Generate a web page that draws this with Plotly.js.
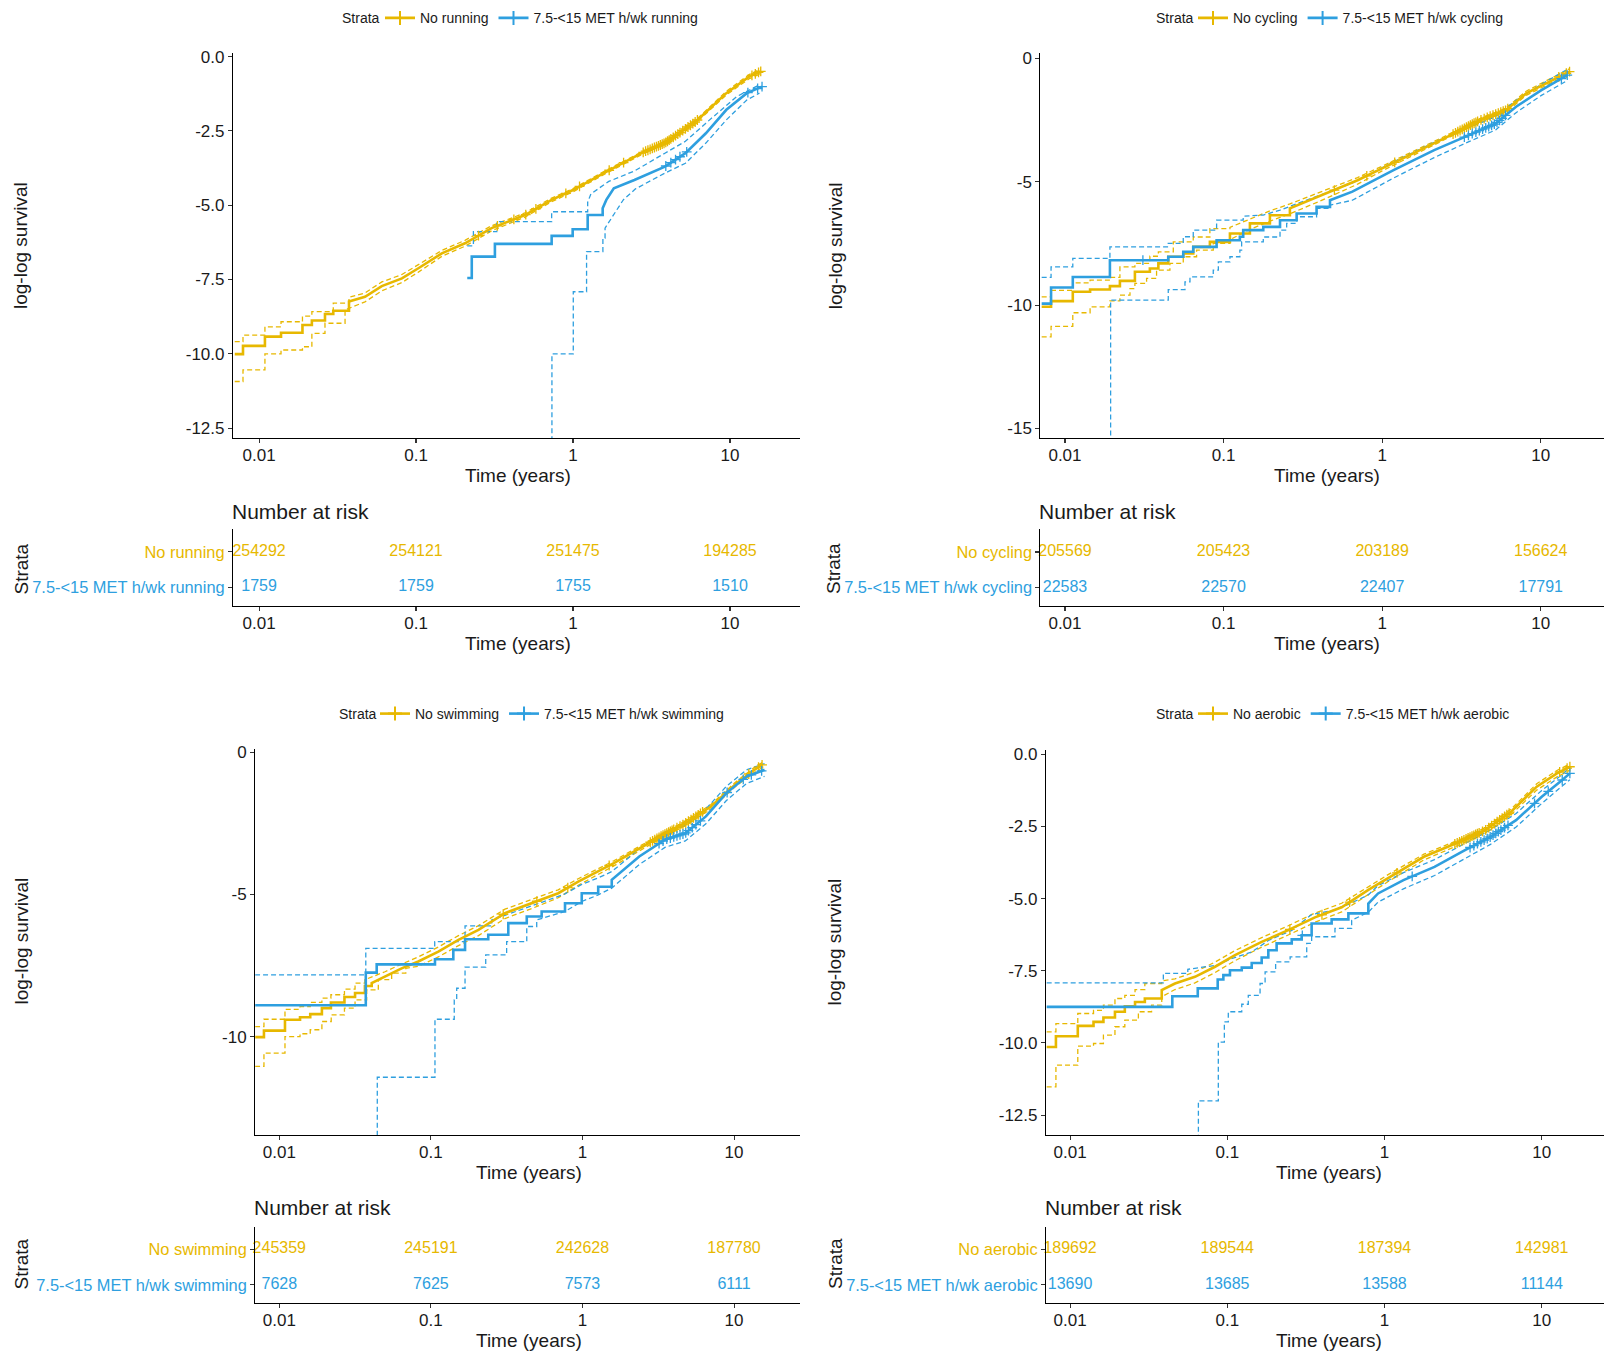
<!DOCTYPE html>
<html>
<head>
<meta charset="utf-8">
<script src="https://cdn.plot.ly/plotly-3.0.1.min.js"></script>
<style>html,body{margin:0;padding:0;background:#fff;}#chart{width:1604px;height:1354px;}</style>
</head>
<body>
<div id="chart"></div>
<script>
// ---------------- DATA ----------------
// [time in years, log-log survival]; -30 stands for -Inf (CI bound not estimable yet)
const groupsRun = ['No running', '7.5-&lt;15 MET h/wk running'];
const groupsCyc = ['No cycling', '7.5-&lt;15 MET h/wk cycling'];
const groupsSwm = ['No swimming', '7.5-&lt;15 MET h/wk swimming'];
const groupsAer = ['No aerobic', '7.5-&lt;15 MET h/wk aerobic'];

const riskTimes = [0.01, 0.1, 1, 10];
const runRiskNo = [254292, 254121, 251475, 194285];
const runRiskHi = [1759, 1759, 1755, 1510];
const cycRiskNo = [205569, 205423, 203189, 156624];
const cycRiskHi = [22583, 22570, 22407, 17791];
const swmRiskNo = [245359, 245191, 242628, 187780];
const swmRiskHi = [7628, 7625, 7573, 6111];
const aerRiskNo = [189692, 189544, 187394, 142981];
const aerRiskHi = [13690, 13685, 13588, 11144];

// ---- running ----
const runNoMain = [[0.0070,-10.01],[0.0079,-9.73],[0.0109,-9.42],[0.0138,-9.29],[0.0189,-9.03],[0.0217,-8.88],[0.0263,-8.66],[0.0297,-8.55],[0.0374,-8.24],[0.0473,-8.08],[0.0605,-7.72],[0.0813,-7.46],[0.1035,-7.12],[0.146,-6.62],[0.205,-6.28],[0.303,-5.77],[0.494,-5.33],[0.731,-4.82],[1.0,-4.49],[1.57,-3.92],[2.85,-3.20],[3.85,-2.91],[6.04,-2.19],[9.48,-1.23],[13.3,-0.67],[15.7,-0.50]];
const runNoUp = [[0.0070,-9.59],[0.0079,-9.37],[0.0109,-9.09],[0.0138,-8.92],[0.0189,-8.73],[0.0217,-8.58],[0.0297,-8.29],[0.0374,-8.10],[0.0473,-7.95],[0.0605,-7.58],[0.0813,-7.33],[0.1035,-7.0],[0.146,-6.52],[0.205,-6.18],[0.303,-5.69],[0.494,-5.26],[0.731,-4.76],[1.0,-4.44],[1.57,-3.87],[2.85,-3.16],[3.85,-2.87],[6.04,-2.14],[9.48,-1.17],[13.3,-0.60],[15.7,-0.42]];
const runNoLo = [[0.0070,-10.93],[0.0079,-10.54],[0.0109,-10.0],[0.0138,-9.87],[0.0189,-9.76],[0.0217,-9.31],[0.0263,-8.97],[0.0353,-8.52],[0.0473,-8.25],[0.0605,-7.88],[0.0813,-7.6],[0.1035,-7.25],[0.146,-6.72],[0.205,-6.38],[0.303,-5.86],[0.494,-5.4],[0.731,-4.88],[1.0,-4.55],[1.57,-3.97],[2.85,-3.25],[3.85,-2.96],[6.04,-2.24],[9.48,-1.29],[13.3,-0.74],[15.7,-0.58]];
const runHiMain = [[0.212,-7.45],[0.2265,-6.73],[0.318,-6.30],[0.731,-6.03],[0.995,-5.81],[1.24,-5.33],[1.545,-5.1],[1.63,-4.82],[1.82,-4.43],[2.46,-4.15],[3.85,-3.70],[5.2,-3.25],[7.02,-2.58],[9.48,-1.79],[12.8,-1.23],[16.0,-1.01]];
const runHiUp = [[0.212,-6.37],[0.232,-5.89],[0.327,-5.55],[0.731,-5.22],[1.24,-4.9],[1.30,-4.62],[1.69,-4.2],[2.46,-3.85],[3.85,-3.25],[5.2,-2.85],[7.02,-2.24],[11.0,-1.35],[15.4,-0.95]];
const runHiLo = [[0.212,-30],[0.734,-10.0],[1.004,-7.91],[1.22,-6.56],[1.55,-6.11],[1.6,-5.77],[2.09,-4.82],[2.5,-4.45],[3.85,-3.92],[5.2,-3.59],[7.02,-2.91],[9.48,-2.13],[12.8,-1.46],[15.4,-1.23]];
const runNoCens = [0.25,0.33,0.42,0.5,0.58,0.9,1.1,1.7,2.1,2.8,2.9,3.0,3.1,3.2,3.3,3.4,3.5,3.6,3.7,3.8,3.9,4.0,4.1,4.2,4.35,4.5,4.65,4.8,5.0,5.2,5.4,5.6,5.8,6.0,6.2,13.8,14.5,15.2,15.7];
const runHiCens = [3.9,4.2,4.5,4.8,5.3,13.0,15.0,16.0];

// ---- cycling ----
const cycNoMain = [[0.00713,-10.07],[0.00817,-9.84],[0.0112,-9.46],[0.0144,-9.37],[0.0192,-9.23],[0.0222,-9.02],[0.0276,-8.65],[0.0343,-8.52],[0.0388,-8.31],[0.0448,-8.04],[0.0557,-7.91],[0.0644,-7.64],[0.082,-7.44],[0.1097,-7.10],[0.1466,-6.69],[0.196,-6.36],[0.262,-6.08],[0.40,-5.6],[0.70,-4.94],[1.0,-4.46],[1.58,-3.85],[2.86,-3.04],[4.16,-2.50],[6.03,-2.10],[8.1,-1.42],[11.8,-0.88],[15.2,-0.54]];
const cycNoUp = [[0.00713,-9.67],[0.00817,-9.4],[0.0112,-9.1],[0.0144,-8.99],[0.0192,-8.88],[0.0222,-8.45],[0.0276,-8.31],[0.0343,-8.02],[0.0388,-7.84],[0.0482,-7.44],[0.0644,-7.24],[0.082,-6.9],[0.1097,-6.85],[0.1466,-6.5],[0.196,-6.18],[0.262,-5.9],[0.40,-5.45],[0.70,-4.83],[1.0,-4.37],[1.58,-3.77],[2.86,-2.97],[4.16,-2.43],[6.03,-2.02],[8.1,-1.33],[11.8,-0.78],[15.2,-0.42]];
const cycNoLo = [[0.00713,-11.29],[0.00817,-10.86],[0.0112,-10.31],[0.0144,-10.07],[0.0192,-9.83],[0.0222,-9.6],[0.0257,-9.33],[0.0276,-9.12],[0.0327,-8.92],[0.0378,-8.58],[0.0459,-8.31],[0.0557,-8.04],[0.0676,-7.77],[0.0861,-7.5],[0.1097,-7.35],[0.1466,-6.93],[0.196,-6.6],[0.262,-6.3],[0.40,-5.8],[0.70,-5.1],[1.0,-4.56],[1.58,-3.93],[2.86,-3.1],[4.16,-2.57],[6.03,-2.18],[8.1,-1.5],[11.8,-0.97],[15.2,-0.66]];
const cycHiMain = [[0.00713,-9.94],[0.00817,-9.29],[0.0112,-8.86],[0.0192,-8.18],[0.0448,-8.04],[0.0557,-7.84],[0.0644,-7.64],[0.0904,-7.37],[0.1267,-7.23],[0.133,-6.96],[0.178,-6.83],[0.227,-6.56],[0.289,-6.29],[0.386,-6.02],[0.469,-5.75],[0.649,-5.4],[1.18,-4.53],[2.13,-3.72],[3.33,-3.18],[5.2,-2.64],[6.99,-1.96],[10.1,-1.29],[14.7,-0.68]];
const cycHiUp = [[0.00713,-8.88],[0.00817,-8.45],[0.0112,-8.11],[0.0192,-7.64],[0.0448,-7.5],[0.0557,-7.23],[0.0644,-6.96],[0.0904,-6.56],[0.133,-6.4],[0.178,-6.35],[0.227,-6.15],[0.289,-5.9],[0.469,-5.4],[0.649,-5.05],[1.18,-4.2],[2.13,-3.4],[3.33,-2.88],[5.2,-2.36],[6.99,-1.7],[10.1,-1.05],[14.7,-0.45]];
const cycHiLo = [[0.00713,-30],[0.0194,-9.80],[0.0448,-9.37],[0.0571,-9.06],[0.0614,-8.86],[0.0861,-8.58],[0.0927,-8.25],[0.1097,-8.04],[0.1267,-7.77],[0.13,-7.44],[0.178,-7.24],[0.227,-6.96],[0.25,-6.69],[0.289,-6.42],[0.386,-6.08],[0.469,-5.95],[0.649,-5.75],[1.18,-4.85],[2.13,-4.02],[3.33,-3.45],[5.2,-2.9],[6.99,-2.2],[10.1,-1.5],[14.7,-0.9]];
const cycNoCens = [0.5,0.8,1.2,2.8,2.9,3.0,3.1,3.2,3.3,3.4,3.5,3.6,3.7,3.8,3.9,4.0,4.2,4.4,4.6,4.8,5.0,5.2,5.4,5.6,5.8,6.0,6.2,13.0,14.5,15.2];
const cycHiCens = [0.031,3.3,3.5,3.7,3.9,4.1,4.3,4.5,4.7,4.9,5.1,5.3,5.5,5.7,6.0,13.5,14.7];

// ---- swimming ----
const swmNoMain = [[0.00692,-10.02],[0.00792,-9.79],[0.0109,-9.41],[0.0137,-9.32],[0.016,-9.21],[0.0191,-9.0],[0.0219,-8.8],[0.0269,-8.61],[0.0316,-8.47],[0.0367,-8.22],[0.0407,-8.12],[0.0498,-7.89],[0.0641,-7.6],[0.0826,-7.36],[0.112,-7.01],[0.152,-6.6],[0.206,-6.25],[0.308,-5.66],[0.462,-5.31],[0.692,-4.96],[0.938,-4.55],[1.61,-3.90],[2.99,-3.08],[4.77,-2.50],[7.04,-1.91],[10.4,-1.09],[13.6,-0.62],[15.3,-0.45]];
const swmNoUp = [[0.00692,-9.65],[0.00792,-9.39],[0.0109,-9.04],[0.0137,-8.95],[0.016,-8.8],[0.0191,-8.65],[0.0219,-8.53],[0.0269,-8.33],[0.0316,-8.12],[0.0367,-8.0],[0.0498,-7.72],[0.0641,-7.45],[0.0826,-7.2],[0.112,-6.85],[0.152,-6.45],[0.206,-6.1],[0.308,-5.52],[0.462,-5.18],[0.692,-4.84],[0.938,-4.45],[1.61,-3.82],[2.99,-3.01],[4.77,-2.43],[7.04,-1.84],[10.4,-1.02],[13.6,-0.54],[15.3,-0.37]];
const swmNoLo = [[0.00692,-11.05],[0.00792,-10.58],[0.0109,-10.0],[0.0137,-9.9],[0.016,-9.76],[0.0191,-9.47],[0.022,-9.24],[0.0269,-9.0],[0.0316,-8.71],[0.0377,-8.36],[0.045,-8.0],[0.0551,-7.77],[0.0683,-7.6],[0.0826,-7.53],[0.112,-7.2],[0.152,-6.8],[0.206,-6.45],[0.308,-5.85],[0.462,-5.5],[0.692,-5.12],[0.938,-4.68],[1.61,-4.0],[2.99,-3.16],[4.77,-2.58],[7.04,-1.99],[10.4,-1.17],[13.6,-0.71],[15.3,-0.55]];
const swmHiMain = [[0.00692,-8.9],[0.0372,-7.75],[0.0439,-7.46],[0.1064,-7.28],[0.1406,-6.95],[0.168,-6.58],[0.239,-6.42],[0.324,-6.01],[0.429,-5.78],[0.538,-5.6],[0.767,-5.31],[0.989,-4.96],[1.27,-4.73],[1.56,-4.49],[2.37,-3.67],[3.5,-3.08],[4.77,-2.85],[6.52,-2.26],[8.9,-1.44],[12.1,-0.86],[15.9,-0.62]];
const swmHiUp = [[0.00692,-7.83],[0.0372,-6.9],[0.106,-6.66],[0.168,-6.11],[0.252,-5.9],[0.324,-5.7],[0.429,-5.45],[0.538,-5.28],[0.767,-4.98],[0.989,-4.65],[1.27,-4.42],[1.56,-4.2],[2.37,-3.4],[3.5,-2.82],[4.77,-2.58],[6.52,-2.0],[8.9,-1.2],[12.1,-0.62],[15.9,-0.4]];
const swmHiLo = [[0.00692,-30],[0.0443,-11.43],[0.1064,-9.39],[0.1426,-8.71],[0.148,-8.3],[0.168,-7.56],[0.23,-7.13],[0.316,-6.66],[0.429,-6.13],[0.499,-5.9],[0.767,-5.6],[0.989,-5.25],[1.27,-5.02],[1.56,-4.78],[2.37,-3.95],[3.5,-3.35],[4.77,-3.12],[6.52,-2.52],[8.9,-1.7],[12.1,-1.1],[15.9,-0.85]];
const swmNoCens = [0.3,0.5,0.8,1.5,2.8,2.9,3.0,3.1,3.2,3.3,3.4,3.5,3.6,3.7,3.8,3.9,4.0,4.2,4.4,4.6,4.8,5.0,5.2,5.4,5.6,5.8,6.0,6.2,12.5,14.5,15.3];
const swmHiCens = [3.2,3.4,3.6,3.8,4.0,4.2,4.4,4.6,4.8,5.0,5.3,5.6,6.0,9.0,11.5,13.0,15.2];

// ---- aerobic ----
const aerNoMain = [[0.0071,-10.14],[0.00813,-9.77],[0.0112,-9.41],[0.0141,-9.27],[0.0163,-9.12],[0.0193,-8.92],[0.0223,-8.73],[0.0259,-8.58],[0.0299,-8.46],[0.0383,-8.17],[0.0465,-7.94],[0.0623,-7.71],[0.0836,-7.36],[0.112,-6.96],[0.1655,-6.5],[0.244,-6.09],[0.361,-5.65],[0.534,-5.3],[0.789,-4.7],[1.06,-4.28],[1.78,-3.55],[3.01,-3.03],[4.39,-2.62],[6.38,-1.99],[9.29,-1.12],[12.5,-0.66],[15.1,-0.43]];
const aerNoUp = [[0.0071,-9.62],[0.00813,-9.33],[0.0112,-8.98],[0.0141,-8.87],[0.0163,-8.69],[0.0193,-8.46],[0.0223,-8.35],[0.0259,-8.15],[0.0299,-7.94],[0.0383,-7.85],[0.0465,-7.78],[0.0623,-7.54],[0.0836,-7.2],[0.112,-6.8],[0.1655,-6.35],[0.244,-5.94],[0.361,-5.5],[0.534,-5.16],[0.789,-4.58],[1.06,-4.16],[1.78,-3.46],[3.01,-2.95],[4.39,-2.54],[6.38,-1.9],[9.29,-1.02],[12.5,-0.56],[15.1,-0.33]];
const aerNoLo = [[0.0071,-11.52],[0.00813,-10.77],[0.0112,-10.11],[0.0141,-10.02],[0.0163,-9.73],[0.0193,-9.44],[0.0223,-9.21],[0.0272,-8.92],[0.033,-8.69],[0.0383,-8.4],[0.0465,-8.15],[0.0623,-7.92],[0.0836,-7.56],[0.112,-7.15],[0.1655,-6.68],[0.244,-6.26],[0.361,-5.82],[0.534,-5.46],[0.789,-4.84],[1.06,-4.4],[1.78,-3.66],[3.01,-3.13],[4.39,-2.72],[6.38,-2.09],[9.29,-1.24],[12.5,-0.78],[15.1,-0.55]];
const aerHiMain = [[0.0071,-8.75],[0.0447,-8.38],[0.0649,-8.11],[0.0869,-7.8],[0.0944,-7.65],[0.104,-7.48],[0.1236,-7.39],[0.143,-7.23],[0.1655,-7.04],[0.1824,-6.79],[0.206,-6.55],[0.257,-6.41],[0.297,-6.27],[0.344,-5.86],[0.461,-5.72],[0.589,-5.51],[0.789,-5.17],[0.91,-4.82],[1.32,-4.36],[2.08,-3.90],[3.25,-3.32],[4.72,-2.86],[6.87,-2.28],[10.0,-1.47],[13.5,-0.89],[15.1,-0.66]];
const aerHiUp = [[0.0071,-7.92],[0.0392,-7.59],[0.0561,-7.45],[0.0869,-7.3],[0.104,-7.1],[0.143,-6.85],[0.1824,-6.45],[0.257,-6.1],[0.344,-5.55],[0.461,-5.42],[0.589,-5.2],[0.789,-4.87],[0.91,-4.55],[1.32,-4.1],[2.08,-3.65],[3.25,-3.08],[4.72,-2.62],[6.87,-2.05],[10.0,-1.25],[13.5,-0.7],[15.1,-0.45]];
const aerHiLo = [[0.0071,-30],[0.0655,-12.01],[0.0877,-9.97],[0.0958,-9.27],[0.1015,-8.92],[0.1236,-8.66],[0.136,-8.35],[0.1616,-7.94],[0.174,-7.54],[0.203,-7.19],[0.251,-7.02],[0.32,-6.55],[0.344,-6.32],[0.484,-6.03],[0.618,-5.75],[0.789,-5.47],[0.91,-5.12],[1.32,-4.66],[2.08,-4.2],[3.25,-3.6],[4.72,-3.12],[6.87,-2.52],[10.0,-1.7],[13.5,-1.1],[15.1,-0.88]];
const aerNoCens = [0.25,0.4,0.6,1.2,2.8,2.9,3.0,3.1,3.2,3.3,3.4,3.5,3.6,3.7,3.8,3.9,4.0,4.2,4.4,4.6,4.8,5.0,5.2,5.4,5.6,5.8,6.0,6.2,13.0,14.5,15.1];
const aerHiCens = [0.3,1.5,3.5,3.7,3.9,4.1,4.3,4.5,4.7,4.9,5.1,5.3,5.5,5.8,6.1,9.0,11.0,13.5,15.1];

// -------------- PRESENTATION --------------
const W = 1604, H = 1354;
const YEL = '#E7B800', BLU = '#2E9FDF';
const FONT = '"Liberation Sans", Arial, Helvetica, sans-serif';
const AXC = '#1a1a1a';

const panels = [
  {groups: groupsRun, riskNo: runRiskNo, riskHi: runRiskHi,
   no: {main: runNoMain, up: runNoUp, lo: runNoLo, se: [0.04, 0.04, 0.04], cens: runNoCens},
   hi: {main: runHiMain, up: runHiUp, lo: runHiLo, se: [1.55, 1.25, 1.6], cens: runHiCens},
   mx: [233, 800], my: [53, 438], ty: [529, 606], xr: [-2.166, 1.446], yr: [-12.83, 0.12],
   yt: [0, -2.5, -5, -7.5, -10, -12.5], ytt: ['0.0', '-2.5', '-5.0', '-7.5', '-10.0', '-12.5'],
   legS: [382, 18.3], legX: 380, ylab: [20.5, 245.5], xlab: [518, 475], ttl: [230, 511.7], strata: [20.5, 569], txlab: [518, 643.3]},
  {groups: groupsCyc, riskNo: cycRiskNo, riskHi: cycRiskHi,
   no: {main: cycNoMain, up: cycNoUp, lo: cycNoLo, se: [0.27, 0.11, 0.11], cens: cycNoCens},
   hi: {main: cycHiMain, up: cycHiUp, lo: cycHiLo, se: [0.47, 0.14, 0.47], cens: cycHiCens},
   mx: [1040.4, 1604], my: [52.7, 438.3], ty: [529.3, 606], xr: [-2.155, 1.399], yr: [-15.4, 0.23],
   yt: [0, -5, -10, -15], ytt: ['0', '-5', '-10', '-15'],
   legS: [1196, 18.3], legX: 1193, ylab: [835.8, 245.5], xlab: [1327, 475], ttl: [1037.4, 511.7], strata: [833, 569], txlab: [1327, 643.3]},
  {groups: groupsSwm, riskNo: swmRiskNo, riskHi: swmRiskHi,
   no: {main: swmNoMain, up: swmNoUp, lo: swmNoLo, se: [0.041, 0.037, 0.069], cens: swmNoCens},
   hi: {main: swmHiMain, up: swmHiUp, lo: swmHiLo, se: [1.6, 0.26, 0.5], cens: swmHiCens},
   mx: [255.2, 800], my: [749.3, 1135], ty: [1226.7, 1303.3], xr: [-2.159, 1.435], yr: [-13.46, 0.1],
   yt: [0, -5, -10], ytt: ['0', '-5', '-10'],
   legS: [378.5, 714], legX: 375, ylab: [20.5, 941], xlab: [529, 1172.5], ttl: [252.2, 1207.3], strata: [20.5, 1264], txlab: [529, 1340.7]},
  {groups: groupsAer, riskNo: aerRiskNo, riskHi: aerRiskHi,
   no: {main: aerNoMain, up: aerNoUp, lo: aerNoLo, se: [0.039, 0.039, 0.039], cens: aerNoCens},
   hi: {main: aerHiMain, up: aerHiUp, lo: aerHiLo, se: [0.79, 0.06, 0.62], cens: aerHiCens},
   mx: [1046, 1604], my: [750, 1135], ty: [1226.7, 1303.3], xr: [-2.153, 1.396], yr: [-13.19, 0.15],
   yt: [0, -2.5, -5, -7.5, -10, -12.5], ytt: ['0.0', '-2.5', '-5.0', '-7.5', '-10.0', '-12.5'],
   legS: [1196, 714], legX: 1193, ylab: [834.8, 941.7], xlab: [1329.4, 1172.5], ttl: [1043, 1207.3], strata: [835, 1264], txlab: [1329.4, 1340.7]}
];

const fx = p => p / W;
const fy = p => 1 - p / H;

// step path: points with time <= stepEnd are joined as steps, later ones linearly
function stepPath(pts, se) {
  const x = [], y = [];
  pts.forEach((p, i) => {
    if (i > 0 && p[0] <= se) { x.push(p[0]); y.push(pts[i - 1][1]); }
    x.push(p[0]); y.push(p[1]);
  });
  return {x, y};
}
function valueAt(pts, se, t) {
  let i = 0;
  while (i + 1 < pts.length && pts[i + 1][0] <= t) i++;
  if (i + 1 < pts.length && pts[i + 1][0] > se && t > pts[i][0]) {
    const [t0, y0] = pts[i], [t1, y1] = pts[i + 1];
    const f = (Math.log(t) - Math.log(t0)) / (Math.log(t1) - Math.log(t0));
    return y0 + f * (y1 - y0);
  }
  return pts[i][1];
}

const traces = [];
const layout = {
  width: W, height: H, margin: {l: 0, r: 0, t: 0, b: 0},
  paper_bgcolor: '#fff', plot_bgcolor: '#fff',
  font: {family: FONT, color: AXC},
  annotations: [], showlegend: true
};

panels.forEach((P, k) => {
  const mi = 2 * k + 1, ti = 2 * k + 2;
  const mx = 'x' + (mi === 1 ? '' : mi), my = 'y' + (mi === 1 ? '' : mi);
  const tx = 'x' + ti, ty = 'y' + ti;
  const mxa = 'xaxis' + (mi === 1 ? '' : mi), mya = 'yaxis' + (mi === 1 ? '' : mi);
  const legName = k === 0 ? 'legend' : 'legend' + (k + 1);

  const xBase = {
    type: 'log', range: P.xr, domain: [fx(P.mx[0]), fx(P.mx[1])],
    showline: true, linecolor: '#000', linewidth: 1.1, mirror: false,
    ticks: 'outside', ticklen: 4, tickwidth: 1.1, tickcolor: '#333',
    tickvals: riskTimes, ticktext: ['0.01', '0.1', '1', '10'],
    showgrid: false, zeroline: false, tickfont: {size: 17, color: AXC, family: FONT}, fixedrange: true
  };
  layout[mxa] = Object.assign({}, xBase, {anchor: my, ticklabelstandoff: -3});
  layout[mya] = {
    range: P.yr, domain: [fy(P.my[1]), fy(P.my[0])], anchor: mx,
    showline: true, linecolor: '#000', linewidth: 1.1,
    ticks: 'outside', ticklen: 4, tickwidth: 1.1, tickcolor: '#333',
    tickvals: P.yt, ticktext: P.ytt, showgrid: false, zeroline: false,
    tickfont: {size: 17, color: AXC, family: FONT}
  };
  layout['xaxis' + ti] = Object.assign({}, xBase, {anchor: ty, ticklabelstandoff: -3});
  layout['yaxis' + ti] = {
    range: [0.48, 2.64], domain: [fy(P.ty[1]), fy(P.ty[0])], anchor: tx,
    showline: true, linecolor: '#000', linewidth: 1.1,
    ticks: 'outside', ticklen: 4, tickwidth: 1.1, tickcolor: '#333',
    tickvals: [2, 1],
    ticktext: ['<span style="color:' + YEL + '">' + P.groups[0] + '</span>',
               '<span style="color:' + BLU + '">' + P.groups[1] + '</span>'],
    showgrid: false, zeroline: false, tickfont: {size: 16.4, family: FONT}
  };

  // confidence bounds (dashed): se = [main, up, lo]
  [[P.no, YEL], [P.hi, BLU]].forEach(([S, col]) => {
    [['up', 1], ['lo', 2]].forEach(([key, idx]) => {
      const p = stepPath(S[key], S.se[idx]);
      traces.push({type: 'scatter', mode: 'lines', x: p.x, y: p.y, xaxis: mx, yaxis: my,
        line: {color: col, width: 1.3, dash: '5px,3px'}, showlegend: false, hoverinfo: 'skip'});
    });
  });
  // main curves + censor marks
  [[P.no, YEL], [P.hi, BLU]].forEach(([S, col]) => {
    const p = stepPath(S.main, S.se[0]);
    traces.push({type: 'scatter', mode: 'lines', x: p.x, y: p.y, xaxis: mx, yaxis: my,
      line: {color: col, width: 2.6}, showlegend: false, hoverinfo: 'skip'});
    traces.push({type: 'scatter', mode: 'markers', x: S.cens, y: S.cens.map(t => valueAt(S.main, S.se[0], t)),
      xaxis: mx, yaxis: my, showlegend: false, hoverinfo: 'skip',
      marker: {symbol: 'cross-thin', size: 7, color: col, line: {color: col, width: 1.3}}});
  });
  // legend entries
  [[P.groups[0], YEL], [P.groups[1], BLU]].forEach(([nm, col]) => {
    traces.push({type: 'scatter', mode: 'lines+markers', x: [null], y: [null], xaxis: mx, yaxis: my,
      name: nm, legend: legName, line: {color: col, width: 2.6},
      marker: {symbol: 'cross-thin', size: 10, color: col, line: {color: col, width: 2}}});
  });
  layout[legName] = {
    orientation: 'h', x: fx(P.legX), xanchor: 'left', y: fy(P.legS[1]), yanchor: 'middle',
    bgcolor: 'rgba(0,0,0,0)', font: {size: 14, family: FONT, color: AXC},
    itemwidth: 30, tracegroupgap: 0, itemclick: false
  };

  // risk table numbers
  [[P.riskNo, 2, YEL], [P.riskHi, 1, BLU]].forEach(([vals, row, col]) => {
    traces.push({type: 'scatter', mode: 'text', x: riskTimes, y: riskTimes.map(() => row),
      text: vals.map(String), xaxis: tx, yaxis: ty, cliponaxis: false,
      textposition: 'middle center', textfont: {size: 16, color: col, family: FONT},
      showlegend: false, hoverinfo: 'skip'});
  });

  // titles
  const A = layout.annotations;
  A.push({text: 'Strata', x: fx(P.legS[0]), y: fy(P.legS[1]), xref: 'paper', yref: 'paper',
    showarrow: false, xanchor: 'right', yanchor: 'middle', font: {size: 14, family: FONT, color: AXC}});
  A.push({text: 'log-log survival', textangle: -90, x: fx(P.ylab[0]), y: fy(P.ylab[1]),
    xref: 'paper', yref: 'paper', showarrow: false, xanchor: 'center', yanchor: 'middle',
    font: {size: 19, family: FONT, color: AXC}});
  A.push({text: 'Time (years)', x: fx(P.xlab[0]), y: fy(P.xlab[1]), xref: 'paper', yref: 'paper',
    showarrow: false, xanchor: 'center', yanchor: 'middle', font: {size: 19, family: FONT, color: AXC}});
  A.push({text: 'Number at risk', x: fx(P.ttl[0]), y: fy(P.ttl[1]), xref: 'paper', yref: 'paper',
    showarrow: false, xanchor: 'left', yanchor: 'middle', font: {size: 21, family: FONT, color: AXC}});
  A.push({text: 'Strata', textangle: -90, x: fx(P.strata[0]), y: fy(P.strata[1]), xref: 'paper', yref: 'paper',
    showarrow: false, xanchor: 'center', yanchor: 'middle', font: {size: 19, family: FONT, color: AXC}});
  A.push({text: 'Time (years)', x: fx(P.txlab[0]), y: fy(P.txlab[1]), xref: 'paper', yref: 'paper',
    showarrow: false, xanchor: 'center', yanchor: 'middle', font: {size: 19, family: FONT, color: AXC}});
});

Plotly.newPlot('chart', traces, layout, {staticPlot: true, displayModeBar: false});
</script>
</body>
</html>
